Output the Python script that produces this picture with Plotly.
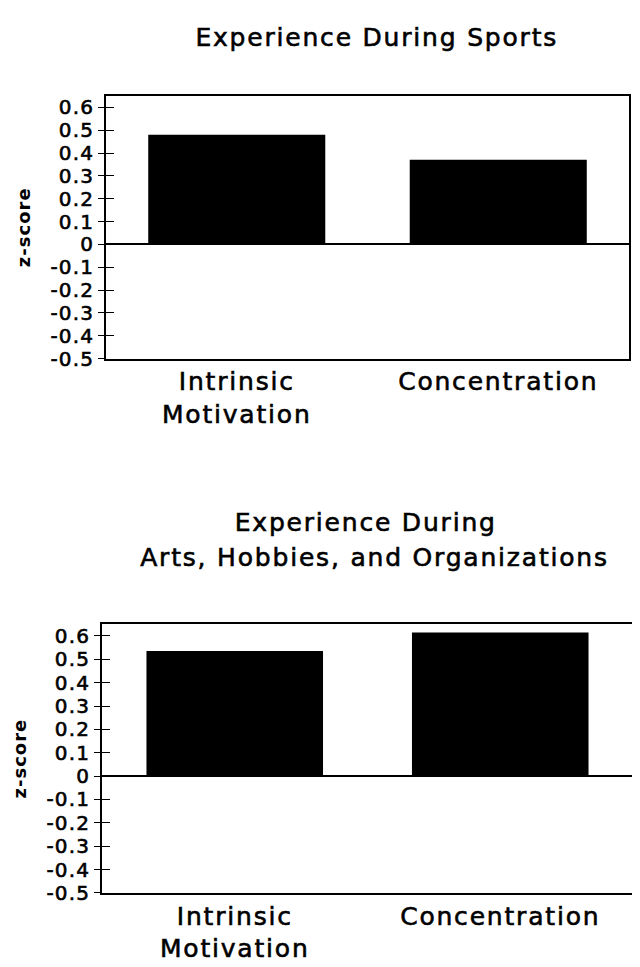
import plotly.graph_objects as go

categories = ["Intrinsic<br>Motivation", "Concentration"]
sports_values = [0.48, 0.37]
arts_values = [0.535, 0.615]
tick_vals = [0.6, 0.5, 0.4, 0.3, 0.2, 0.1, 0, -0.1, -0.2, -0.3, -0.4, -0.5]
tick_text = ["0.6", "0.5", "0.4", "0.3", "0.2", "0.1", "0", "-0.1", "-0.2", "-0.3", "-0.4", "-0.5"]
title_top = "Experience During Sports"
title_bottom_1 = "Experience During"
title_bottom_2 = "Arts, Hobbies, and Organizations"
y_title = "z-score"

FONT = "DejaVu Sans"
W, H = 640, 967

def px_x(p):
    return p / W

def px_y(p):
    return 1 - p / H

fig = go.Figure()
fig.add_trace(go.Bar(x=categories, y=sports_values, marker=dict(color="black", line=dict(width=0)),
                     width=0.677, xaxis="x", yaxis="y", showlegend=False))
fig.add_trace(go.Bar(x=categories, y=arts_values, marker=dict(color="black", line=dict(width=0)),
                     width=0.665, xaxis="x2", yaxis="y2", showlegend=False))
# carrier traces for the inner tick-mark axes (draw nothing)
fig.add_trace(go.Scatter(x=categories, y=sports_values, mode="none", xaxis="x", yaxis="y3",
                         showlegend=False, hoverinfo="skip"))
fig.add_trace(go.Scatter(x=categories, y=arts_values, mode="none", xaxis="x2", yaxis="y4",
                         showlegend=False, hoverinfo="skip"))

yrange = [-0.5, 0.65]
common_y = dict(range=yrange, tickvals=tick_vals, ticktext=tick_text, ticks="outside", ticklen=6,
                tickwidth=1.3, tickcolor="black", showline=True, linecolor="black", linewidth=1.5,
                mirror=True, showgrid=False, zeroline=True, zerolinecolor="black", zerolinewidth=1.5,
                tickfont=dict(family=FONT, size=20, color="black"),
                title=dict(text="<b>" + y_title + "</b>", font=dict(family=FONT, size=18, color="black"),
                           standoff=20))
inner_y = dict(range=yrange, tickvals=tick_vals, ticks="inside", ticklen=8, tickwidth=1.3, tickcolor="black",
               showticklabels=False, showline=False, showgrid=False, zeroline=False)
common_x = dict(type="category", range=[-0.5, 1.5], showline=True, linecolor="black", linewidth=1.5,
                mirror=True, ticks="", showgrid=False,
                tickfont=dict(family=FONT, size=25, color="black"))

top_dom_y = [px_y(355), px_y(89)]
bot_dom_y = [px_y(896), px_y(624)]
top_dom_x = [px_x(98), px_x(621)]
bot_dom_x = [px_x(94), px_x(625)]

fig.update_layout(
    width=W, height=H, margin=dict(l=0, r=0, t=0, b=0),
    paper_bgcolor="white", plot_bgcolor="white",
    xaxis=dict(common_x, domain=top_dom_x, anchor="y", ticklabelstandoff=0),
    yaxis=dict(common_y, domain=top_dom_y, anchor="x"),
    xaxis2=dict(common_x, domain=bot_dom_x, anchor="y2", ticklabelstandoff=0),
    yaxis2=dict(common_y, domain=bot_dom_y, anchor="x2"),
    yaxis3=dict(inner_y, overlaying="y", anchor="x"),
    yaxis4=dict(inner_y, overlaying="y2", anchor="x2"),
    annotations=[
        dict(text=title_top, x=px_x(368), y=px_y(30), xref="paper", yref="paper", showarrow=False,
             xanchor="center", yanchor="middle", font=dict(family=FONT, size=25, color="black")),
        dict(text=title_bottom_1, x=px_x(357), y=px_y(521), xref="paper", yref="paper", showarrow=False,
             xanchor="center", yanchor="middle", font=dict(family=FONT, size=25, color="black")),
        dict(text=title_bottom_2, x=px_x(366), y=px_y(556), xref="paper", yref="paper", showarrow=False,
             xanchor="center", yanchor="middle", font=dict(family=FONT, size=25, color="black")),
    ],
)

post = """
var gd = document.getElementById('{plot_id}');
function restyleText(){
  gd.querySelectorAll('.annotation-text, .xaxislayer-above text').forEach(function(t){
    t.style.letterSpacing = '1.8px'; t.style.stroke = 'black'; t.style.strokeWidth = '0.6px'; });
  gd.querySelectorAll('.yaxislayer-above text').forEach(function(t){
    t.style.letterSpacing = '1.2px'; t.style.stroke = 'black'; t.style.strokeWidth = '0.6px'; });
  gd.querySelectorAll('text.ytitle, text.y2title').forEach(function(t){ t.style.letterSpacing = '1px'; });
}
restyleText();
gd.on('plotly_afterplot', restyleText);
"""
fig.write_html("out.html", post_script=post)
